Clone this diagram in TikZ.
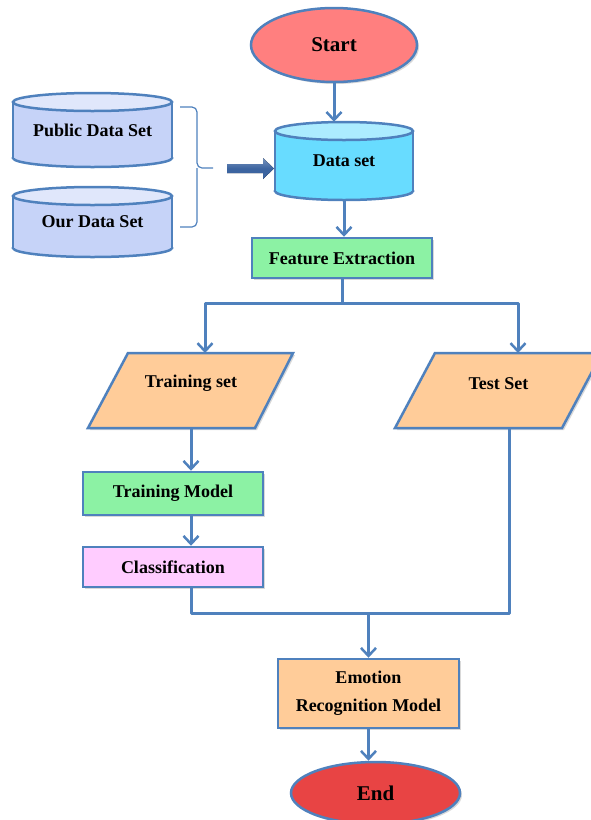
\documentclass[tikz,border=0pt]{standalone}
\usepackage{fontspec}
\setmainfont{Liberation Serif}
\usetikzlibrary{shapes.geometric,arrows.meta,shadows}
\definecolor{lc}{HTML}{4F81BD}
\definecolor{startfill}{HTML}{FF7F7F}
\definecolor{endfill}{HTML}{E84444}
\definecolor{dsfill}{HTML}{68DCFF}
\definecolor{cylfill}{HTML}{C6D3F8}
\definecolor{greenfill}{HTML}{8CF2A4}
\definecolor{pinkfill}{HTML}{FFCCFF}
\definecolor{peachfill}{HTML}{FFCC99}
\definecolor{blockarr}{HTML}{3C64A0}
\newcommand{\mycyl}[6]{%
  \pgfmathsetmacro{\mycx}{(#1+#2)/2}%
  \pgfmathsetmacro{\myrx}{(#2-#1)/2}%
  \filldraw[fill=#6, draw=lc, line width=2.5pt] (\mycx,#4) ellipse [x radius=\myrx, y radius=#5];
  \fill[#6] (#1,#3) rectangle (#2,#4);
  \draw[lc, line width=2.5pt] (#1,#3) -- (#1,#4) (#2,#3) -- (#2,#4);
  \filldraw[fill=#6!55!white, draw=lc, line width=2.5pt] (\mycx,#3) ellipse [x radius=\myrx, y radius=#5];
}
\tikzset{
  every node/.style={font=\fontsize{18}{22}\selectfont\bfseries},
  box/.style={draw=lc, line width=2.5pt, inner sep=0pt},
  bignode/.style={font=\fontsize{21}{24}\selectfont\bfseries},
  conn/.style={draw=lc, line width=3pt, line join=round},
  arr/.style={conn, -{Straight Barb[length=8pt, width=15pt, line width=2.5pt]}},
  shad/.style={drop shadow={opacity=0.3, shadow xshift=2pt, shadow yshift=-2pt}},
  holder/.style={inner sep=0pt, draw=none}
}
\begin{document}
\begin{tikzpicture}[x=1pt,y=-1pt]
\useasboundingbox (0,0) rectangle (590,820);

% Start
\node[box, ellipse, fill=startfill, minimum width=166pt, minimum height=74pt, shad, bignode] (start) at (334,45) {Start};

% Data set cylinder
\mycyl{275}{413}{131}{191}{9}{dsfill}
\node[holder, minimum width=138pt, minimum height=78pt] (ds) at (344,161) {Data set};

% left cylinders
\mycyl{13}{172}{102}{158}{9}{cylfill}
\node[holder, minimum width=159pt, minimum height=74pt] (pub) at (92.5,130) {Public Data Set};
\mycyl{13}{172}{196}{248}{9}{cylfill}
\node[holder, minimum width=159pt, minimum height=70pt] (our) at (92.5,222) {Our Data Set};

% brace
\coordinate (bt) at (180,107);
\coordinate (bm) at (213,168);
\coordinate (bb) at (180,227);
\draw[lc, line width=1.2pt, rounded corners=5pt] (bt) -- (197,107) -- (197,168) -- (bm);
\draw[lc, line width=1.2pt, rounded corners=5pt] (bb) -- (197,227) -- (197,168);

% block arrow
\fill[top color=blockarr!70!white, bottom color=blockarr, middle color=blockarr] (227,164) -- (263,164) -- (263,158) -- (274,168.5) -- (263,179) -- (263,173) -- (227,173) -- cycle;

\draw[arr] (start.south) -- (start.south |- ds.north);

% Feature extraction
\node[box, fill=greenfill, minimum width=180pt, minimum height=40pt, shad] (fe) at (342,258) {Feature Extraction};
\draw[arr] (ds.south) -- (ds.south |- fe.north);

% parallelograms
\path[box, fill=peachfill, shad] (128,353) -- (293,353) -- (255,428) -- (88,428) -- cycle;
\node[holder, minimum width=165pt, minimum height=75pt, label={[yshift=7pt]center:Training set}] (tr) at (191,390.5) {};
\path[box, fill=peachfill, shad] (435,353) -- (602,353) -- (562,428) -- (395,428) -- cycle;
\node[holder, minimum width=165pt, minimum height=75pt, label={[yshift=7pt]center:Test Set}] (ts) at (498.5,390.5) {};

\coordinate (split) at (342,303);
\coordinate (trtop) at (205,353);
\coordinate (tstop) at (518,353);
\draw[conn] (fe.south) -- (split);
\draw[arr] (split) -| (trtop);
\draw[arr] (split) -| (tstop);

% training model & classification
\node[box, fill=greenfill, minimum width=180pt, minimum height=43pt, shad] (tm) at (173,493.5) {Training Model};
\node[box, fill=pinkfill, minimum width=180pt, minimum height=40pt, shad] (cl) at (173,567) {Classification};
\draw[arr] (tr.south) -- (tr.south |- tm.north);
\draw[arr] (tm.south -| tr.south) -- (tr.south |- cl.north);

% emotion
\node[box, fill=peachfill, minimum width=181pt, minimum height=69pt, align=center, shad, font=\fontsize{18}{28}\selectfont\bfseries] (em) at (368.5,693.5) {\raisebox{-3pt}{Emotion}\\\raisebox{-3pt}{Recognition Model}};

\coordinate (merge) at (368.5,613);
\coordinate (tsbot) at (509,428);
\draw[conn] (cl.south -| tr.south) |- (merge);
\draw[conn] (tsbot) |- (merge);
\draw[arr] (merge) -- (em.north);

% end
\node[box, ellipse, fill=endfill, minimum width=169pt, minimum height=62pt, shad, bignode] (endn) at (375.5,793) {End};
\draw[arr] (em.south) -- (em.south |- endn.north);
\end{tikzpicture}
\end{document}
